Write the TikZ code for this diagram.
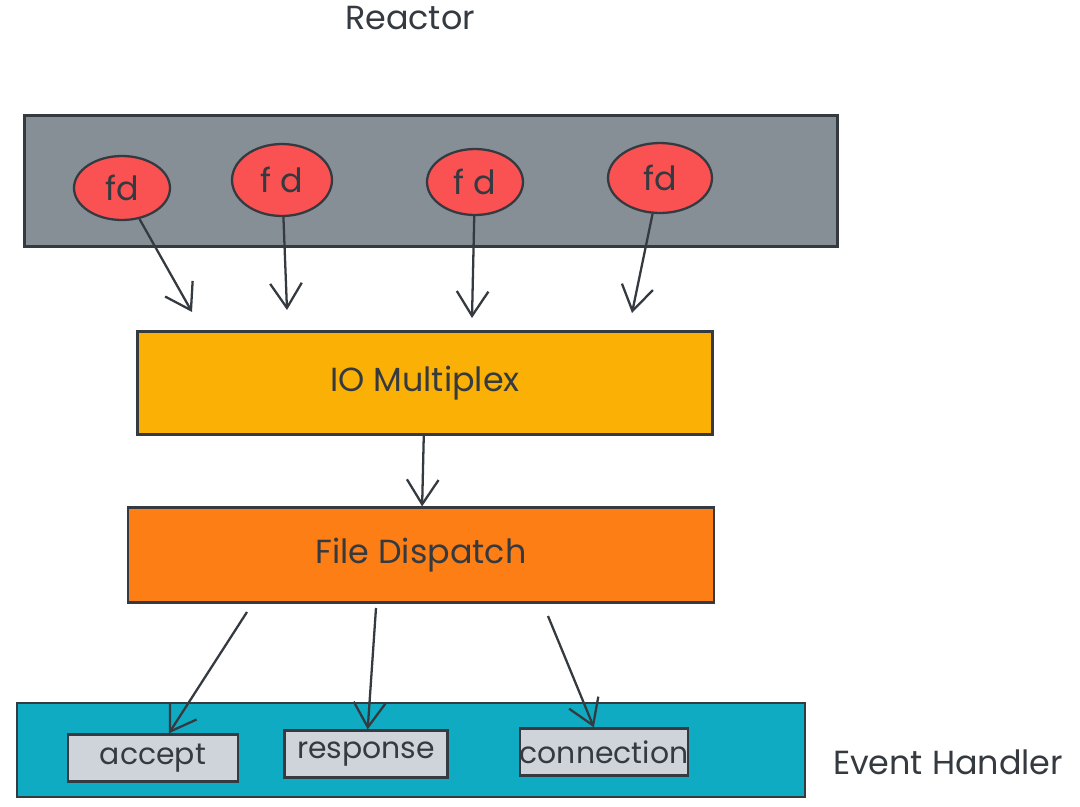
\documentclass[tikz,border=0pt]{standalone}
\usepackage{fontspec}
\setmainfont{Poppins}
\usetikzlibrary{arrows.meta,shapes.geometric}

\definecolor{ink}{HTML}{343A40}
\definecolor{slate}{HTML}{868E96}
\definecolor{fdred}{HTML}{FA5252}
\definecolor{muxyellow}{HTML}{FAB005}
\definecolor{disporange}{HTML}{FD7E14}
\definecolor{handlercyan}{HTML}{0FABC2}
\definecolor{chip}{HTML}{CED4DA}

\tikzset{
  layer/.style={draw=ink,line width=1.3pt,inner sep=0pt},
  fdnode/.style={ellipse,draw=ink,fill=fdred,line width=1.3pt,inner sep=0pt},
  handler/.style={draw=ink,fill=chip,line width=1.3pt,inner sep=0pt,font=\fontsize{17}{20}\selectfont},
  arr/.style={draw=ink,line width=1.3pt,-{Straight Barb[length=14pt,width=18pt]}}
}

\begin{document}
\begin{tikzpicture}[x=0.02cm,y=-0.02cm,font=\fontsize{19}{22}\selectfont,text=ink]
  \useasboundingbox (0,0) rectangle (1080,806);

  % labels
  \node (reactor) at (410,18) {Reactor};
  \node (evh) at (948,762) {Event Handler};

  % layers
  \node[layer,fill=slate,minimum width=16.26cm,minimum height=2.62cm] (bar) at (431,181) {};
  \node[layer,fill=muxyellow,minimum width=11.5cm,minimum height=2.06cm] (io) at (425,383) {IO Multiplex};
  \node[layer,fill=disporange,minimum width=11.72cm,minimum height=1.9cm] (disp) at (421,555) {File Dispatch};
  \node[layer,fill=handlercyan,minimum width=15.76cm,minimum height=1.88cm] (evbar) at (411,750) {};

  \begin{scope}[every node/.style={fdnode}]
    \node[minimum width=1.92cm,minimum height=1.28cm] (fd1) at (122,188) {fd};
    \node[minimum width=2.0cm,minimum height=1.44cm] (fd2) at (282,180) {f d};
    \node[minimum width=1.92cm,minimum height=1.32cm] (fd3) at (475,182) {f d};
    \node[minimum width=2.08cm,minimum height=1.4cm] (fd4) at (660,178) {fd};
  \end{scope}

  \begin{scope}[every node/.style={handler,minimum height=0.94cm}]
    \node[minimum width=3.4cm] (accept) at (153,758) {accept};
    \node[minimum width=3.26cm] (resp) at (366,754) {response};
    \node[minimum width=3.36cm] (conn) at (604,752) {connection};
  \end{scope}

  % arrow ends
  \coordinate (m1) at (192,312);
  \coordinate (m2) at (287,310);
  \coordinate (m3) at (472,318);
  \coordinate (m4) at (632,313);
  \coordinate (d1) at (247,612);
  \coordinate (d2) at (376,608);
  \coordinate (d3) at (548,616);

  \path (fd1) edge[arr] (m1);
  \path (fd2) edge[arr] (m2);
  \path (fd3) edge[arr] (m3);
  \path (fd4) edge[arr] (m4);
  \path (io) edge[arr] (disp);
  \path (d1) edge[arr] (accept);
  \path (d2) edge[arr] (resp);
  \path (d3) edge[arr] (conn);

\end{tikzpicture}
\end{document}
